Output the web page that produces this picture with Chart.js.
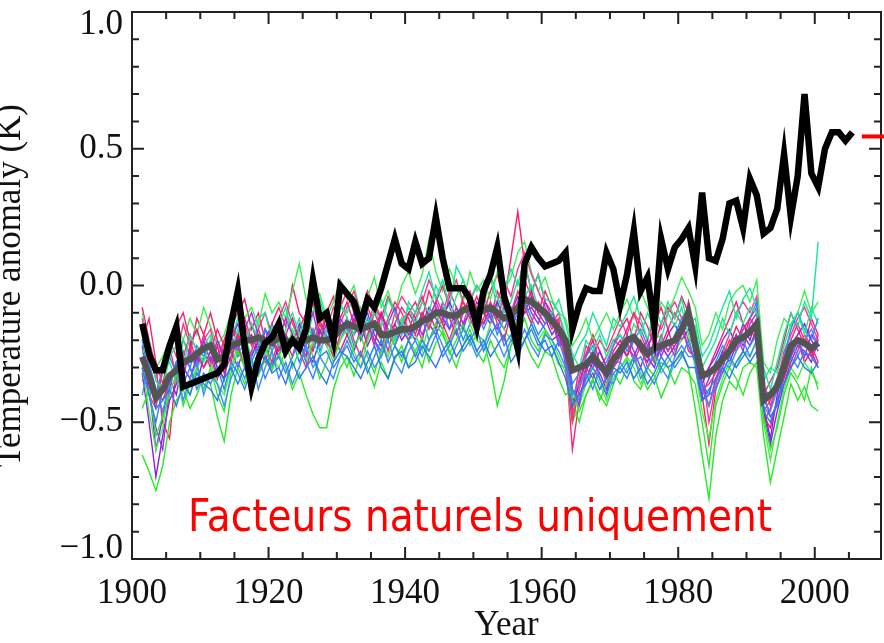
<!DOCTYPE html>
<html>
<head>
<meta charset="utf-8">
<title>Facteurs naturels uniquement</title>
<script src="https://cdn.jsdelivr.net/npm/chart.js@4.4.1/dist/chart.umd.min.js"></script>
<style>
  html, body { margin: 0; padding: 0; background: #fff; }
  #graphique { display: block; }
</style>
</head>
<body>
<canvas id="graphique" width="884" height="643"></canvas>
<script>
// annual anomalies (K), first value is 1901
const first_year = 1901;

// observations 1901-2005
const observed = [
  -0.14, -0.25, -0.31, -0.31, -0.22, -0.15, -0.37, -0.36, -0.35, -0.34,
  -0.33, -0.32, -0.29, -0.14, -0.02, -0.22, -0.37, -0.27, -0.21, -0.19,
  -0.14, -0.24, -0.20, -0.23, -0.16, 0.02, -0.12, -0.10, -0.20, 0.00,
  -0.03, -0.06, -0.14, -0.05, -0.08, -0.01, 0.08, 0.17, 0.08, 0.06,
  0.16, 0.08, 0.10, 0.25, 0.10, -0.01, -0.01, -0.01, -0.05, -0.15,
  -0.02, 0.04, 0.14, -0.04, -0.12, -0.23, 0.08, 0.14, 0.10, 0.07,
  0.08, 0.09, 0.12, -0.16, -0.07, -0.01, -0.02, -0.02, 0.12, 0.06,
  -0.07, 0.04, 0.20, -0.02, 0.03, -0.15, 0.17, 0.06, 0.14, 0.17,
  0.21, 0.07, 0.34, 0.10, 0.09, 0.17, 0.30, 0.31, 0.21, 0.39,
  0.33, 0.19, 0.21, 0.28, 0.48, 0.25, 0.40, 0.70, 0.41, 0.36,
  0.50, 0.56, 0.56, 0.53, 0.56
];

// ensemble mean of the natural-forcing runs, 1901-2000
const model_mean = [
  -0.26, -0.33, -0.41, -0.38, -0.33, -0.31, -0.28, -0.27, -0.25, -0.23,
  -0.22, -0.27, -0.26, -0.22, -0.21, -0.20, -0.20, -0.19, -0.20, -0.21,
  -0.19, -0.20, -0.21, -0.20, -0.20, -0.19, -0.20, -0.20, -0.19, -0.16,
  -0.14, -0.15, -0.16, -0.15, -0.14, -0.18, -0.18, -0.17, -0.16, -0.16,
  -0.15, -0.13, -0.12, -0.10, -0.10, -0.11, -0.11, -0.09, -0.08, -0.10,
  -0.09, -0.08, -0.10, -0.12, -0.11, -0.08, -0.05, -0.06, -0.08, -0.10,
  -0.13, -0.16, -0.20, -0.31, -0.30, -0.29, -0.26, -0.29, -0.32, -0.27,
  -0.24, -0.20, -0.19, -0.22, -0.25, -0.23, -0.22, -0.21, -0.20, -0.16,
  -0.10, -0.22, -0.33, -0.32, -0.30, -0.27, -0.24, -0.20, -0.19, -0.17,
  -0.14, -0.42, -0.40, -0.37, -0.30, -0.22, -0.20, -0.21, -0.23, -0.21
];

// individual runs, 1901-2000
const run_green_1 = [
  -0.62, -0.68, -0.75, -0.66, -0.50, -0.42, -0.38, -0.45, -0.40, -0.33,
  -0.36, -0.48, -0.57, -0.40, -0.30, -0.36, -0.28, -0.33, -0.27, -0.31,
  -0.25, -0.30, -0.38, -0.32, -0.40, -0.47, -0.52, -0.52, -0.38, -0.30,
  -0.26, -0.33, -0.25, -0.30, -0.37, -0.28, -0.34, -0.27, -0.22, -0.30,
  -0.24, -0.19, -0.28, -0.21, -0.17, -0.25, -0.20, -0.14, -0.22, -0.18,
  -0.20, -0.30, -0.44, -0.35, -0.22, -0.18, -0.12, -0.20, -0.24, -0.17,
  -0.22, -0.29, -0.30, -0.42, -0.50, -0.40, -0.35, -0.40, -0.44, -0.36,
  -0.30, -0.27, -0.35, -0.38, -0.30, -0.33, -0.41, -0.35, -0.28, -0.25,
  -0.30, -0.45, -0.62, -0.78, -0.55, -0.42, -0.35, -0.38, -0.30, -0.28,
  -0.30, -0.55, -0.72, -0.60, -0.48, -0.36, -0.42, -0.37, -0.44, -0.46
];
const run_green_2 = [
  -0.10, -0.22, -0.30, -0.26, -0.20, -0.14, -0.20, -0.12, -0.18, -0.08,
  -0.15, -0.22, -0.18, -0.10, -0.05, -0.12, -0.08, -0.15, -0.03, -0.10,
  -0.06, -0.12, -0.02, 0.08, -0.05, -0.10, -0.03, -0.12, -0.06, 0.02,
  -0.05, 0.00, -0.10, -0.04, 0.03, -0.08, -0.02, -0.10, 0.00, 0.05,
  -0.03, 0.04, 0.17, 0.05, -0.02, 0.06, 0.00, -0.06, 0.05, -0.02,
  0.02, -0.05, 0.05, -0.02, 0.03, 0.12, 0.16, 0.05, -0.02, 0.03,
  -0.05, -0.10, -0.12, -0.22, -0.18, -0.12, -0.20, -0.15, -0.10, -0.16,
  -0.10, -0.05, -0.12, -0.02, -0.08, -0.14, -0.06, -0.10, -0.04, 0.03,
  -0.02, -0.08, -0.22, -0.18, -0.10, -0.16, -0.06, -0.02, 0.00, -0.06,
  0.02, -0.28, -0.32, -0.20, -0.12, -0.15, -0.10, -0.02, -0.10, -0.06
];
const run_green_3 = [
  -0.45, -0.38, -0.55, -0.48, -0.40, -0.32, -0.44, -0.36, -0.30, -0.38,
  -0.30, -0.40, -0.46, -0.32, -0.24, -0.30, -0.36, -0.28, -0.22, -0.30,
  -0.26, -0.20, -0.30, -0.24, -0.18, -0.26, -0.34, -0.28, -0.20, -0.24,
  -0.30, -0.22, -0.18, -0.26, -0.32, -0.24, -0.16, -0.22, -0.28, -0.20,
  -0.24, -0.30, -0.20, -0.14, -0.18, -0.24, -0.30, -0.22, -0.16, -0.24,
  -0.28, -0.20, -0.26, -0.30, -0.22, -0.16, -0.20, -0.26, -0.30, -0.24,
  -0.26, -0.34, -0.40, -0.38, -0.46, -0.40, -0.34, -0.42, -0.36, -0.32,
  -0.36, -0.30, -0.26, -0.32, -0.38, -0.34, -0.28, -0.30, -0.36, -0.30,
  -0.32, -0.36, -0.50, -0.66, -0.44, -0.36, -0.30, -0.34, -0.40, -0.32,
  -0.28, -0.48, -0.60, -0.52, -0.40, -0.32, -0.36, -0.42, -0.30, -0.38
];
const run_green_4 = [
  -0.30, -0.46, -0.60, -0.52, -0.36, -0.28, -0.34, -0.40, -0.30, -0.26,
  -0.28, -0.36, -0.40, -0.30, -0.22, -0.28, -0.32, -0.24, -0.20, -0.26,
  -0.30, -0.24, -0.16, -0.22, -0.28, -0.20, -0.14, -0.22, -0.28, -0.20,
  -0.16, -0.24, -0.30, -0.20, -0.14, -0.20, -0.26, -0.18, -0.12, -0.20,
  -0.18, -0.24, -0.14, -0.10, -0.16, -0.22, -0.14, -0.08, -0.14, -0.20,
  -0.22, -0.14, -0.10, -0.16, -0.20, -0.12, -0.08, -0.14, -0.20, -0.16,
  -0.20, -0.26, -0.32, -0.50, -0.44, -0.36, -0.30, -0.36, -0.42, -0.34,
  -0.30, -0.26, -0.30, -0.36, -0.30, -0.26, -0.32, -0.28, -0.24, -0.20,
  -0.18, -0.30, -0.46, -0.56, -0.42, -0.34, -0.28, -0.30, -0.24, -0.26,
  -0.20, -0.50, -0.64, -0.50, -0.38, -0.30, -0.34, -0.28, -0.32, -0.36
];
const run_teal_1 = [
  -0.18, -0.30, -0.42, -0.32, -0.28, -0.35, -0.20, -0.26, -0.30, -0.22,
  -0.18, -0.30, -0.35, -0.20, -0.12, -0.18, -0.26, -0.12, -0.10, -0.20,
  -0.15, -0.08, -0.18, -0.12, -0.22, -0.10, -0.05, -0.14, -0.20, -0.08,
  -0.10, -0.04, -0.12, -0.20, -0.08, -0.15, -0.05, -0.10, -0.18, -0.06,
  -0.10, -0.02, 0.05, -0.05, 0.02, -0.08, 0.07, 0.02, -0.05, 0.00,
  -0.04, 0.03, -0.08, -0.02, 0.06, 0.00, 0.10, -0.03, 0.04, -0.05,
  -0.06, -0.10, -0.18, -0.28, -0.22, -0.18, -0.10, -0.16, -0.22, -0.12,
  -0.15, -0.10, -0.04, -0.12, -0.20, -0.08, -0.14, -0.06, -0.12, -0.05,
  -0.14, -0.12, -0.26, -0.22, -0.15, -0.08, -0.02, -0.12, -0.05, -0.01,
  -0.08, -0.30, -0.38, -0.28, -0.18, -0.10, -0.15, -0.06, -0.12, 0.16
];
const run_teal_2 = [
  -0.25, -0.20, -0.35, -0.38, -0.26, -0.22, -0.30, -0.18, -0.24, -0.28,
  -0.20, -0.25, -0.30, -0.24, -0.16, -0.22, -0.14, -0.20, -0.26, -0.15,
  -0.22, -0.16, -0.10, -0.18, -0.12, -0.20, -0.26, -0.16, -0.12, -0.06,
  -0.12, -0.18, -0.08, -0.14, -0.10, -0.05, -0.12, -0.20, -0.14, -0.08,
  -0.14, -0.06, -0.10, 0.00, -0.06, -0.12, -0.04, 0.02, -0.06, -0.12,
  -0.08, 0.04, -0.04, -0.10, -0.06, 0.02, -0.04, 0.00, -0.08, -0.12,
  -0.10, -0.05, -0.14, -0.25, -0.30, -0.20, -0.24, -0.18, -0.26, -0.20,
  -0.18, -0.22, -0.14, -0.18, -0.10, -0.16, -0.20, -0.10, -0.15, -0.08,
  -0.18, -0.15, -0.30, -0.25, -0.20, -0.12, -0.18, -0.10, -0.14, -0.08,
  -0.10, -0.35, -0.30, -0.32, -0.22, -0.14, -0.10, -0.18, -0.08, -0.14
];
const run_pink_1 = [
  -0.08, -0.20, -0.30, -0.50, -0.56, -0.30, -0.20, -0.25, -0.12, -0.18,
  -0.10, -0.20, -0.28, -0.15, -0.10, -0.05, -0.16, -0.10, -0.20, -0.14,
  -0.08, -0.15, 0.00, -0.10, -0.14, -0.06, -0.18, -0.10, -0.04, -0.12,
  -0.06, -0.14, -0.10, -0.02, -0.08, -0.12, -0.04, -0.10, -0.18, -0.10,
  -0.06, -0.12, -0.02, -0.08, -0.14, -0.04, 0.02, -0.06, -0.10, -0.04,
  -0.10, -0.02, 0.04, -0.06, 0.10, 0.27, 0.08, -0.02, 0.04, -0.06,
  -0.10, -0.14, -0.22, -0.45, -0.30, -0.25, -0.18, -0.24, -0.30, -0.22,
  -0.16, -0.12, -0.20, -0.10, -0.15, -0.22, -0.14, -0.08, -0.12, -0.04,
  -0.10, -0.18, -0.40, -0.58, -0.38, -0.30, -0.22, -0.15, -0.20, -0.12,
  -0.08, -0.40, -0.35, -0.30, -0.20, -0.10, -0.16, -0.22, -0.12, -0.18
];
const run_pink_2 = [
  -0.20, -0.12, -0.28, -0.36, -0.24, -0.15, -0.10, -0.20, -0.28, -0.18,
  -0.24, -0.16, -0.22, -0.28, -0.18, -0.12, -0.20, -0.26, -0.16, -0.22,
  -0.14, -0.20, -0.26, -0.16, -0.10, -0.18, -0.12, -0.22, -0.16, -0.08,
  -0.02, -0.10, -0.16, -0.08, -0.14, -0.20, -0.12, -0.06, -0.10, -0.16,
  -0.10, -0.04, -0.12, -0.06, 0.00, -0.08, -0.14, -0.04, -0.02, -0.10,
  -0.06, -0.12, -0.02, -0.08, -0.14, -0.06, 0.02, -0.04, -0.10, -0.02,
  -0.08, -0.18, -0.26, -0.60, -0.42, -0.32, -0.24, -0.30, -0.26, -0.20,
  -0.22, -0.16, -0.10, -0.18, -0.24, -0.14, -0.08, -0.16, -0.10, -0.14,
  -0.20, -0.20, -0.34, -0.30, -0.24, -0.18, -0.12, -0.06, -0.14, -0.18,
  -0.12, -0.50, -0.45, -0.38, -0.28, -0.20, -0.14, -0.20, -0.26, -0.18
];
const run_pink_3 = [
  -0.30, -0.40, -0.45, -0.30, -0.22, -0.34, -0.26, -0.18, -0.24, -0.30,
  -0.26, -0.34, -0.20, -0.14, -0.22, -0.30, -0.24, -0.16, -0.22, -0.28,
  -0.20, -0.26, -0.18, -0.24, -0.30, -0.22, -0.14, -0.20, -0.26, -0.18,
  -0.12, -0.20, -0.26, -0.18, -0.10, -0.16, -0.24, -0.14, -0.08, -0.12,
  -0.18, -0.10, -0.16, -0.08, -0.14, -0.20, -0.12, -0.06, -0.12, -0.18,
  -0.12, -0.06, -0.14, -0.20, -0.10, -0.02, -0.08, -0.14, -0.06, -0.10,
  -0.16, -0.12, -0.30, -0.50, -0.38, -0.30, -0.34, -0.28, -0.36, -0.30,
  -0.26, -0.20, -0.28, -0.22, -0.30, -0.26, -0.18, -0.24, -0.20, -0.14,
  -0.24, -0.26, -0.38, -0.36, -0.32, -0.26, -0.20, -0.24, -0.16, -0.12,
  -0.16, -0.46, -0.42, -0.34, -0.26, -0.30, -0.24, -0.18, -0.22, -0.28
];
const run_pink_4 = [
  -0.15, -0.30, -0.38, -0.42, -0.35, -0.28, -0.34, -0.22, -0.16, -0.24,
  -0.30, -0.22, -0.32, -0.26, -0.18, -0.24, -0.14, -0.22, -0.28, -0.20,
  -0.24, -0.18, -0.12, -0.20, -0.26, -0.16, -0.22, -0.10, -0.18, -0.24,
  -0.18, -0.12, -0.20, -0.14, -0.22, -0.10, -0.16, -0.22, -0.16, -0.10,
  -0.14, -0.20, -0.10, -0.16, -0.06, -0.12, -0.18, -0.10, -0.04, -0.08,
  -0.14, -0.08, -0.12, -0.04, -0.10, -0.16, -0.08, -0.02, -0.10, -0.14,
  -0.12, -0.20, -0.24, -0.40, -0.36, -0.26, -0.20, -0.28, -0.34, -0.24,
  -0.20, -0.26, -0.18, -0.24, -0.20, -0.28, -0.22, -0.16, -0.24, -0.18,
  -0.06, -0.24, -0.36, -0.44, -0.34, -0.28, -0.24, -0.18, -0.22, -0.16,
  -0.20, -0.48, -0.52, -0.42, -0.34, -0.26, -0.20, -0.28, -0.24, -0.30
];
const run_pink_5 = [
  -0.12, -0.26, -0.34, -0.28, -0.20, -0.26, -0.14, -0.22, -0.30, -0.20,
  -0.16, -0.26, -0.20, -0.12, -0.20, -0.14, -0.22, -0.16, -0.10, -0.18,
  -0.12, -0.06, -0.14, -0.20, -0.12, -0.04, -0.10, -0.16, -0.08, -0.14,
  -0.08, -0.02, -0.10, -0.16, -0.06, -0.12, -0.20, -0.10, -0.04, -0.08,
  -0.12, -0.06, 0.02, -0.04, -0.10, -0.02, -0.08, -0.14, -0.06, 0.00,
  -0.04, -0.10, -0.06, 0.02, -0.04, 0.06, 0.12, 0.04, -0.02, -0.08,
  -0.14, -0.10, -0.20, -0.48, -0.34, -0.22, -0.26, -0.20, -0.24, -0.18,
  -0.12, -0.18, -0.10, -0.14, -0.20, -0.12, -0.16, -0.10, -0.06, -0.12,
  -0.08, -0.16, -0.30, -0.50, -0.36, -0.24, -0.18, -0.10, -0.06, -0.10,
  -0.04, -0.36, -0.44, -0.36, -0.24, -0.18, -0.12, -0.08, -0.14, -0.20
];
const run_purple_1 = [
  -0.32, -0.50, -0.70, -0.55, -0.42, -0.36, -0.30, -0.34, -0.26, -0.30,
  -0.24, -0.30, -0.34, -0.20, -0.14, -0.22, -0.18, -0.24, -0.16, -0.20,
  -0.26, -0.18, -0.22, -0.14, -0.20, -0.24, -0.16, -0.22, -0.14, -0.18,
  -0.12, -0.18, -0.14, -0.22, -0.16, -0.10, -0.18, -0.14, -0.20, -0.16,
  -0.20, -0.14, -0.08, -0.12, -0.16, -0.10, -0.14, -0.08, -0.12, -0.06,
  -0.10, -0.14, -0.06, -0.12, -0.08, -0.14, -0.10, -0.04, -0.08, -0.12,
  -0.18, -0.14, -0.26, -0.44, -0.36, -0.28, -0.30, -0.24, -0.30, -0.26,
  -0.22, -0.26, -0.20, -0.24, -0.28, -0.20, -0.24, -0.18, -0.14, -0.20,
  -0.16, -0.22, -0.36, -0.30, -0.26, -0.20, -0.16, -0.22, -0.14, -0.20,
  -0.12, -0.44, -0.56, -0.40, -0.30, -0.22, -0.18, -0.14, -0.20, -0.24
];
const run_purple_2 = [
  -0.22, -0.40, -0.52, -0.60, -0.38, -0.28, -0.32, -0.24, -0.30, -0.20,
  -0.28, -0.20, -0.26, -0.18, -0.24, -0.16, -0.10, -0.18, -0.24, -0.14,
  -0.20, -0.12, -0.18, -0.24, -0.16, -0.10, -0.20, -0.14, -0.22, -0.12,
  -0.16, -0.10, -0.20, -0.14, -0.20, -0.24, -0.14, -0.08, -0.16, -0.20,
  -0.12, -0.18, -0.12, -0.06, -0.12, -0.16, -0.08, -0.14, -0.10, -0.14,
  -0.06, -0.12, -0.16, -0.08, -0.14, -0.06, -0.02, -0.10, -0.14, -0.06,
  -0.12, -0.22, -0.20, -0.38, -0.44, -0.30, -0.24, -0.34, -0.40, -0.28,
  -0.28, -0.18, -0.24, -0.30, -0.22, -0.18, -0.26, -0.20, -0.26, -0.16,
  -0.22, -0.28, -0.40, -0.34, -0.28, -0.32, -0.26, -0.18, -0.24, -0.14,
  -0.10, -0.40, -0.48, -0.44, -0.32, -0.26, -0.20, -0.26, -0.18, -0.22
];
const run_purple_3 = [
  -0.28, -0.36, -0.60, -0.48, -0.34, -0.40, -0.26, -0.30, -0.36, -0.26,
  -0.22, -0.34, -0.28, -0.24, -0.30, -0.22, -0.26, -0.20, -0.26, -0.30,
  -0.22, -0.26, -0.20, -0.16, -0.24, -0.28, -0.20, -0.16, -0.22, -0.14,
  -0.18, -0.24, -0.16, -0.10, -0.18, -0.22, -0.16, -0.20, -0.12, -0.18,
  -0.16, -0.10, -0.14, -0.18, -0.12, -0.06, -0.12, -0.16, -0.08, -0.12,
  -0.14, -0.08, -0.12, -0.16, -0.10, -0.04, -0.10, -0.08, -0.12, -0.16,
  -0.20, -0.18, -0.24, -0.42, -0.40, -0.34, -0.28, -0.32, -0.38, -0.30,
  -0.26, -0.22, -0.26, -0.20, -0.26, -0.30, -0.22, -0.26, -0.22, -0.18,
  -0.14, -0.26, -0.42, -0.40, -0.30, -0.24, -0.28, -0.22, -0.18, -0.22,
  -0.16, -0.46, -0.58, -0.46, -0.36, -0.28, -0.22, -0.24, -0.28, -0.20
];
const run_blue_1 = [
  -0.35, -0.32, -0.45, -0.42, -0.38, -0.44, -0.36, -0.40, -0.32, -0.36,
  -0.38, -0.42, -0.34, -0.30, -0.36, -0.30, -0.38, -0.32, -0.26, -0.32,
  -0.30, -0.36, -0.28, -0.34, -0.30, -0.26, -0.32, -0.36, -0.28, -0.24,
  -0.26, -0.30, -0.34, -0.28, -0.22, -0.30, -0.34, -0.26, -0.24, -0.30,
  -0.28, -0.22, -0.26, -0.30, -0.24, -0.20, -0.26, -0.22, -0.18, -0.24,
  -0.20, -0.26, -0.22, -0.18, -0.28, -0.24, -0.20, -0.14, -0.20, -0.24,
  -0.22, -0.28, -0.34, -0.44, -0.40, -0.36, -0.32, -0.38, -0.34, -0.30,
  -0.32, -0.28, -0.34, -0.30, -0.36, -0.32, -0.26, -0.30, -0.28, -0.24,
  -0.30, -0.30, -0.42, -0.38, -0.34, -0.30, -0.34, -0.28, -0.24, -0.28,
  -0.24, -0.46, -0.50, -0.42, -0.36, -0.30, -0.26, -0.30, -0.32, -0.28
];
const run_blue_2 = [
  -0.40, -0.28, -0.38, -0.46, -0.36, -0.30, -0.42, -0.34, -0.28, -0.40,
  -0.32, -0.36, -0.44, -0.34, -0.28, -0.34, -0.26, -0.38, -0.30, -0.24,
  -0.34, -0.28, -0.36, -0.30, -0.22, -0.30, -0.26, -0.30, -0.34, -0.26,
  -0.20, -0.26, -0.30, -0.24, -0.30, -0.26, -0.20, -0.28, -0.32, -0.24,
  -0.20, -0.26, -0.20, -0.16, -0.22, -0.28, -0.22, -0.16, -0.20, -0.26,
  -0.22, -0.16, -0.20, -0.26, -0.20, -0.22, -0.16, -0.22, -0.26, -0.18,
  -0.20, -0.24, -0.30, -0.40, -0.36, -0.32, -0.38, -0.30, -0.34, -0.36,
  -0.28, -0.32, -0.26, -0.34, -0.30, -0.24, -0.30, -0.34, -0.26, -0.22,
  -0.26, -0.26, -0.38, -0.44, -0.36, -0.28, -0.30, -0.24, -0.20, -0.26,
  -0.20, -0.42, -0.46, -0.38, -0.28, -0.20, -0.26, -0.20, -0.16, -0.22
];
const run_blue_3 = [
  -0.20, -0.34, -0.40, -0.30, -0.26, -0.32, -0.24, -0.30, -0.22, -0.26,
  -0.20, -0.28, -0.24, -0.18, -0.26, -0.20, -0.28, -0.22, -0.16, -0.24,
  -0.18, -0.24, -0.20, -0.28, -0.22, -0.16, -0.24, -0.18, -0.26, -0.20,
  -0.14, -0.22, -0.18, -0.12, -0.20, -0.26, -0.18, -0.22, -0.14, -0.20,
  -0.16, -0.12, -0.20, -0.14, -0.08, -0.16, -0.12, -0.20, -0.14, -0.10,
  -0.16, -0.10, -0.18, -0.12, -0.16, -0.10, -0.06, -0.12, -0.18, -0.14,
  -0.10, -0.16, -0.22, -0.36, -0.32, -0.26, -0.22, -0.30, -0.28, -0.22,
  -0.18, -0.24, -0.20, -0.16, -0.22, -0.28, -0.20, -0.24, -0.18, -0.12,
  -0.12, -0.20, -0.30, -0.34, -0.28, -0.22, -0.26, -0.20, -0.16, -0.12,
  -0.06, -0.38, -0.40, -0.34, -0.26, -0.16, -0.10, -0.16, -0.20, -0.12
];
const run_blue_4 = [
  -0.30, -0.40, -0.50, -0.38, -0.34, -0.28, -0.36, -0.30, -0.38, -0.32,
  -0.36, -0.30, -0.38, -0.28, -0.32, -0.38, -0.30, -0.26, -0.34, -0.28,
  -0.26, -0.32, -0.26, -0.20, -0.28, -0.34, -0.26, -0.24, -0.30, -0.26,
  -0.22, -0.28, -0.24, -0.32, -0.26, -0.20, -0.28, -0.22, -0.26, -0.20,
  -0.26, -0.20, -0.24, -0.18, -0.26, -0.22, -0.16, -0.24, -0.20, -0.16,
  -0.24, -0.18, -0.14, -0.22, -0.18, -0.26, -0.20, -0.16, -0.22, -0.20,
  -0.26, -0.20, -0.28, -0.38, -0.42, -0.34, -0.30, -0.34, -0.40, -0.32,
  -0.30, -0.34, -0.28, -0.26, -0.32, -0.36, -0.30, -0.26, -0.30, -0.26,
  -0.20, -0.28, -0.36, -0.40, -0.38, -0.32, -0.26, -0.30, -0.26, -0.22,
  -0.18, -0.44, -0.48, -0.44, -0.32, -0.26, -0.30, -0.24, -0.26, -0.30
];

const x_tick_labels = [1900, 1920, 1940, 1960, 1980, 2000];
const y_tick_labels = [-1.0, -0.5, 0.0, 0.5, 1.0];
const present_level = 0.545;   // short red mark at the right edge
const note_text = 'Facteurs naturels uniquement';

const serif = '"Liberation Serif", "Times New Roman", serif';

function to_points(values) {
    // values are annual means, plotted at mid-year
    return values.map((v, i) => ({ x: first_year + i + 0.5, y: v }));
}

function thin_run(values, colour) {
    return {
        data: to_points(values),
        borderColor: colour,
        borderWidth: 1.4,
        pointRadius: 0,
        order: 3
    };
}

// frame with inward ticks on all four sides, plus the y labels
const frame_plugin = {
    id: 'frame_plugin',
    beforeDatasetsDraw(chart) {
        const { ctx, chartArea: a, scales: { x, y } } = chart;
        ctx.save();
        ctx.strokeStyle = '#222';
        ctx.lineWidth = 2;
        ctx.strokeRect(a.left, a.top, a.right - a.left, a.bottom - a.top);

        ctx.beginPath();
        for (let yr = 1905; yr < x.max; yr += 5) {
            const px = x.getPixelForValue(yr);
            const len = yr % 20 === 0 ? 12 : 7;
            ctx.moveTo(px, a.bottom); ctx.lineTo(px, a.bottom - len);
            ctx.moveTo(px, a.top); ctx.lineTo(px, a.top + len);
        }
        for (let k = -9; k <= 9; k++) {
            const py = y.getPixelForValue(k / 10);
            const len = k % 5 === 0 ? 12 : 7;
            ctx.moveTo(a.left, py); ctx.lineTo(a.left + len, py);
            ctx.moveTo(a.right, py); ctx.lineTo(a.right - len, py);
        }
        ctx.stroke();

        ctx.fillStyle = '#111';
        ctx.font = '35px ' + serif;
        ctx.textAlign = 'right';
        ctx.textBaseline = 'middle';
        y_tick_labels.forEach(v => {
            let py = y.getPixelForValue(v);
            py = Math.min(Math.max(py, a.top + 13), a.bottom - 10);
            const txt = v < 0 ? '\u2212' + Math.abs(v).toFixed(1) : v.toFixed(1);
            ctx.fillText(txt, a.left - 9, py);
        });
        ctx.restore();
    },
    afterDraw(chart) {
        const { ctx } = chart;
        ctx.save();
        ctx.font = '44px "DejaVu Sans", sans-serif';
        const w = ctx.measureText(note_text).width;
        ctx.translate(188, 531);
        ctx.scale(584 / w, 1);
        ctx.fillStyle = '#ff0000';
        ctx.textAlign = 'left';
        ctx.textBaseline = 'alphabetic';
        ctx.fillText(note_text, 0, 0);
        ctx.restore();
    }
};

// higher "order" is drawn first, so the runs sit underneath
const datasets = [
    thin_run(run_blue_1, '#2a78f0'),
    thin_run(run_blue_4, '#3380ff'),
    thin_run(run_blue_2, '#3d8cff'),
    thin_run(run_green_3, '#2ee82e'),
    thin_run(run_teal_2, '#1ee890'),
    thin_run(run_purple_2, '#9933ee'),
    thin_run(run_pink_3, '#f0306e'),
    thin_run(run_green_4, '#44f044'),
    thin_run(run_green_1, '#22ee22'),
    thin_run(run_blue_3, '#1e90ff'),
    thin_run(run_pink_4, '#e8197f'),
    thin_run(run_purple_3, '#7d2ae8'),
    thin_run(run_purple_1, '#8a22dd'),
    thin_run(run_teal_1, '#14e69a'),
    thin_run(run_pink_2, '#ff2277'),
    thin_run(run_pink_5, '#ff3399'),
    thin_run(run_green_2, '#3cf050'),
    thin_run(run_pink_1, '#ff1a6a'),
    {
        data: to_points(model_mean),
        borderColor: '#545454',
        borderWidth: 6.5,
        pointRadius: 0,
        order: 2
    },
    {
        data: to_points(observed),
        borderColor: '#000000',
        borderWidth: 6.5,
        pointRadius: 0,
        order: 1
    },
    {
        data: [{ x: 2006.9, y: present_level }, { x: 2011, y: present_level }],
        borderColor: '#ff0000',
        borderWidth: 4,
        pointRadius: 0,
        clip: false,
        order: 0
    }
];

new Chart(document.getElementById('graphique'), {
    type: 'line',
    data: { datasets: datasets },
    options: {
        responsive: false,
        devicePixelRatio: 1,
        animation: false,
        layout: { padding: { top: 12, right: 3, left: 0, bottom: 0 } },
        elements: { line: { tension: 0 } },
        plugins: { legend: { display: false }, tooltip: { enabled: false } },
        scales: {
            x: {
                type: 'linear',
                min: 1900,
                max: 2009.7,
                grid: { display: false, drawTicks: false },
                border: { display: false },
                ticks: {
                    stepSize: 20,
                    includeBounds: false,
                    autoSkip: false,
                    maxRotation: 0,
                    padding: 14,
                    color: '#111',
                    font: { family: serif, size: 35 },
                    callback: v => x_tick_labels.includes(v) ? String(v) : ''
                },
                title: {
                    display: true,
                    text: 'Year',
                    color: '#111',
                    font: { family: serif, size: 35 },
                    padding: { top: 0, bottom: -4 }
                },
                afterFit: scale => { scale.height = 84; }
            },
            y: {
                min: -1,
                max: 1,
                grid: { display: false, drawTicks: false },
                border: { display: false },
                ticks: { display: false },
                title: {
                    display: true,
                    text: 'Temperature anomaly (K)',
                    color: '#111',
                    font: { family: serif, size: 35 },
                    padding: { top: -10, bottom: 0 }
                },
                afterFit: scale => { scale.width = 132; }
            }
        }
    },
    plugins: [frame_plugin]
});
</script>
</body>
</html>
